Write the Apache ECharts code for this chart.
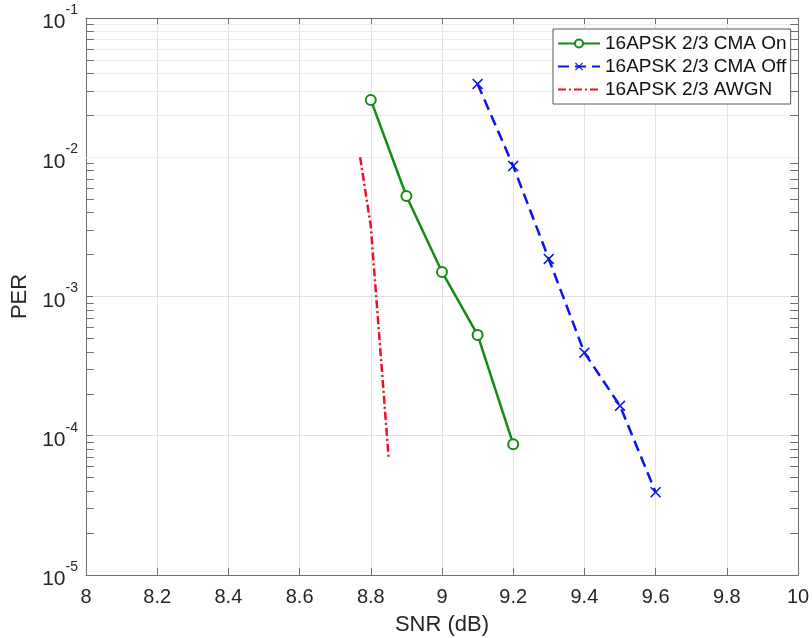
<!doctype html>
<html lang="en">
  <head>
    <meta charset="UTF-8" />
    <title>PER vs SNR</title>
    <script src="https://cdn.jsdelivr.net/npm/echarts@6/dist/echarts.min.js"></script>
    <style>
      * { margin: 0; padding: 0; }
      html, body, #chart { width: 812px; height: 638px; overflow: hidden; background: #fff; }
    </style>
  </head>
  <body>
    <div id="chart"></div>
    <script>
      // data
      const snrOn = [8.8, 8.9, 9.0, 9.1, 9.2];
      const perOn = [0.0258, 0.00527, 0.0015, 0.00053, 0.000087];
      const snrOff = [9.1, 9.2, 9.3, 9.4, 9.5, 9.6];
      const perOff = [0.0336, 0.00865, 0.00186, 0.000395, 0.000164, 0.0000393];
      const snrAwgn = [8.77, 8.8, 8.85];
      const perAwgn = [0.01, 0.0032, 0.00007];

      const decades = [-5, -4, -3, -2];
      const minorSteps = [2, 3, 4, 5, 6, 7, 8, 9];

      const names = ['16APSK 2/3 CMA On', '16APSK 2/3 CMA Off', '16APSK 2/3 AWGN'];
      const zip = (xs, ys) => xs.map((x, i) => [x, ys[i]]);

      const minorVals = [];
      decades.forEach((d) => minorSteps.forEach((k) => minorVals.push(k * Math.pow(10, d))));

      const minorGrid = minorVals.map((v) => ({ yAxis: v }));
      const minorTicks = [];
      minorVals.forEach((v) => {
        minorTicks.push([{ coord: [8, v] }, { coord: [8.022, v] }]);
        minorTicks.push([{ coord: [10, v] }, { coord: [9.978, v] }]);
      });

      const textColor = '#262626';
      const axisColor = '#707070';
      const font = 'Liberation Sans';

      const chart = echarts.init(document.getElementById('chart'));
      chart.setOption({
        animation: false,
        grid: { left: 86, right: 14, top: 18, bottom: 63, outerBoundsMode: 'none', containLabel: false },
        legend: {
          data: [
            { name: names[0] },
            { name: names[1] },
            { name: names[2], itemStyle: { opacity: 0 } }
          ],
          orient: 'vertical',
          left: 553,
          top: 29,
          padding: [5, 4, 5, 4],
          itemGap: 4,
          itemWidth: 42,
          itemHeight: 10,
          borderColor: '#555',
          borderWidth: 1,
          backgroundColor: '#fff',
          z: 10,
          textStyle: { fontSize: 19, color: '#111', fontFamily: font }
        },
        xAxis: [
          {
            type: 'value',
            min: 8,
            max: 10,
            interval: 0.2,
            name: 'SNR (dB)',
            nameLocation: 'middle',
            nameGap: 39,
            nameTextStyle: { fontSize: 22, color: textColor, fontFamily: font },
            axisLine: { lineStyle: { color: axisColor } },
            axisTick: { inside: true, length: 7, lineStyle: { color: axisColor } },
            axisLabel: {
              fontSize: 20,
              color: textColor,
              margin: 12,
              fontFamily: font,
              formatter: (v) => String(Math.round(v * 10) / 10)
            },
            splitLine: { lineStyle: { color: '#e3e3e3' } }
          },
          {
            type: 'value',
            position: 'top',
            min: 8,
            max: 10,
            interval: 0.2,
            axisLine: { lineStyle: { color: axisColor } },
            axisTick: { inside: true, length: 7, lineStyle: { color: axisColor } },
            axisLabel: { show: false },
            splitLine: { show: false }
          }
        ],
        yAxis: [
          {
            type: 'log',
            logBase: 10,
            min: 1e-5,
            max: 0.1,
            name: 'PER',
            nameLocation: 'middle',
            nameGap: 53,
            nameTextStyle: { fontSize: 22, color: textColor, fontFamily: font },
            axisLine: { lineStyle: { color: axisColor } },
            axisTick: { inside: true, length: 7, lineStyle: { color: axisColor } },
            axisLabel: {
              margin: 8,
              fontFamily: font,
              formatter: (v) => '{b|10}{s|' + Math.round(Math.log10(v)) + '}',
              rich: {
                b: { fontSize: 21, color: textColor, fontFamily: font, lineHeight: 30, verticalAlign: 'bottom' },
                s: { fontSize: 14, color: textColor, fontFamily: font, lineHeight: 30, verticalAlign: 'top' }
              }
            },
            splitLine: { lineStyle: { color: '#e0e0e0' } }
          },
          {
            type: 'log',
            logBase: 10,
            min: 1e-5,
            max: 0.1,
            position: 'right',
            axisLine: { lineStyle: { color: axisColor } },
            axisTick: { inside: true, length: 7, lineStyle: { color: axisColor } },
            axisLabel: { show: false },
            splitLine: { show: false }
          }
        ],
        series: [
          {
            name: 'minor grid',
            type: 'line',
            data: [],
            silent: true,
            markLine: {
              silent: true,
              symbol: ['none', 'none'],
              label: { show: false },
              animation: false,
              lineStyle: { color: '#ececec', type: 'solid', width: 1 },
              data: minorGrid
            }
          },
          {
            name: 'minor ticks',
            type: 'line',
            data: [],
            silent: true,
            markLine: {
              silent: true,
              symbol: ['none', 'none'],
              label: { show: false },
              animation: false,
              lineStyle: { color: axisColor, type: 'solid', width: 1 },
              data: minorTicks
            }
          },
          {
            name: names[0],
            type: 'line',
            data: zip(snrOn, perOn),
            symbol: 'emptyCircle',
            symbolSize: 10,
            color: '#158a15',
            lineStyle: { width: 2.5 },
            itemStyle: { borderWidth: 2.2 },
            z: 5
          },
          {
            name: names[1],
            type: 'line',
            data: zip(snrOff, perOff),
            symbol: 'path://M0,1 L1,0 L5,4 L9,0 L10,1 L6,5 L10,9 L9,10 L5,6 L1,10 L0,9 L4,5 Z',
            symbolSize: 11,
            color: '#0a14f0',
            lineStyle: { width: 2.5, type: [11, 6] },
            z: 5
          },
          {
            name: names[2],
            type: 'line',
            data: zip(snrAwgn, perAwgn),
            symbol: 'none',
            color: '#ee1020',
            lineStyle: { width: 2.5, type: [8, 3, 2, 3] },
            z: 5
          }
        ]
      });
    </script>
  </body>
</html>
